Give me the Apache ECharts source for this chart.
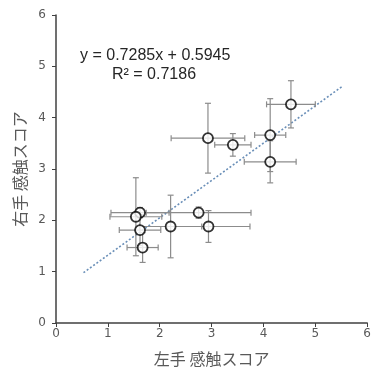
<!DOCTYPE html>
<html>
<head>
<meta charset="utf-8">
<script src="https://cdn.jsdelivr.net/npm/echarts@6/dist/echarts.min.js"></script>
<style>
  html, body { margin: 0; padding: 0; background: #fff; }
  #main { width: 374px; height: 374px; }
</style>
</head>
<body>
<div id="main"></div>
<script>
// 左手・右手の感触スコア（平均値と誤差）
var leftScore  = [4.53, 2.93, 3.41, 4.13, 4.13, 1.62, 1.54, 2.75, 1.62, 1.67, 2.21, 2.94];
var rightScore = [4.26, 3.60, 3.47, 3.66, 3.14, 2.15, 2.07, 2.15, 1.81, 1.47, 1.88, 1.88];
var leftErr    = [0.47, 0.71, 0.35, 0.30, 0.50, 0.56, 0.50, 1.01, 0.40, 0.30, 0.60, 0.80];
var rightErr   = [0.46, 0.68, 0.22, 0.71, 0.41, 0.10, 0.76, 0.11, 0.30, 0.29, 0.61, 0.31];

// 近似直線（図から読んだ端点）
var trendX = [0.53, 5.52];
var trendY = [0.98, 4.61];

var points = leftScore.map(function (x, i) {
    return [x, rightScore[i], leftErr[i], rightErr[i]];
});

var myChart = echarts.init(document.getElementById('main'));

var cap = 3;
function renderErr(params, api) {
    var x = api.value(0), y = api.value(1), xe = api.value(2), ye = api.value(3);
    var c = api.coord([x, y]);
    var l = api.coord([x - xe, y]), r = api.coord([x + xe, y]);
    var t = api.coord([x, y + ye]), b = api.coord([x, y - ye]);
    var style = { stroke: '#8c8c8c', lineWidth: 1.2 };
    function ln(x1, y1, x2, y2) {
        return { type: 'line', shape: { x1: x1, y1: y1, x2: x2, y2: y2 }, style: style };
    }
    return {
        type: 'group',
        children: [
            ln(l[0], c[1], r[0], c[1]),
            ln(l[0], c[1] - cap, l[0], c[1] + cap),
            ln(r[0], c[1] - cap, r[0], c[1] + cap),
            ln(c[0], t[1], c[0], b[1]),
            ln(c[0] - cap, t[1], c[0] + cap, t[1]),
            ln(c[0] - cap, b[1], c[0] + cap, b[1])
        ]
    };
}

option = {
    animation: false,
    grid: { left: 56, top: 15, right: 2, bottom: 51, containLabel: false },
    xAxis: {
        type: 'value', min: 0, max: 6, interval: 1,
        name: '左手 感触スコア',
        nameLocation: 'middle', nameGap: 28,
        nameTextStyle: { color: '#595959', fontSize: 16, fontFamily: 'Noto Sans CJK JP' },
        axisLine: { show: true, lineStyle: { color: '#404040', width: 1.5 } },
        axisTick: { show: true, length: 4, lineStyle: { color: '#404040' } },
        axisLabel: { color: '#595959', fontSize: 12, margin: 5, fontFamily: 'DejaVu Sans' },
        splitLine: { show: false }
    },
    yAxis: {
        type: 'value', min: 0, max: 6, interval: 1,
        name: '右手 感触スコア',
        nameLocation: 'middle', nameGap: 28, nameRotate: 90,
        nameTextStyle: { color: '#595959', fontSize: 16, fontFamily: 'Noto Sans CJK JP' },
        axisLine: { show: true, lineStyle: { color: '#404040', width: 1.5 } },
        axisTick: { show: true, length: 4, lineStyle: { color: '#404040' } },
        axisLabel: { color: '#595959', fontSize: 12, margin: 10, fontFamily: 'DejaVu Sans' },
        splitLine: { show: false }
    },
    graphic: [
        { type: 'text', left: 80, top: 48,
          style: { text: 'y = 0.7285x + 0.5945', fill: '#262626', font: '16px "Liberation Sans"' } },
        { type: 'text', left: 112, top: 67,
          style: { text: 'R² = 0.7186', fill: '#262626', font: '16px "Liberation Sans"' } }
    ],
    series: [
        {
            type: 'line',
            data: trendX.map(function (x, i) { return [x, trendY[i]]; }),
            symbol: 'none',
            lineStyle: { color: '#6a8fb8', width: 1.6, type: [2, 2] },
            z: 1
        },
        {
            type: 'custom',
            renderItem: renderErr,
            data: points,
            encode: { x: 0, y: 1 },
            z: 2
        },
        {
            type: 'scatter',
            data: points,
            symbol: 'circle',
            symbolSize: 10,
            itemStyle: { color: '#ffffff', borderColor: '#000000', borderWidth: 1.8 },
            z: 3
        }
    ]
};

myChart.setOption(option);
</script>
</body>
</html>
